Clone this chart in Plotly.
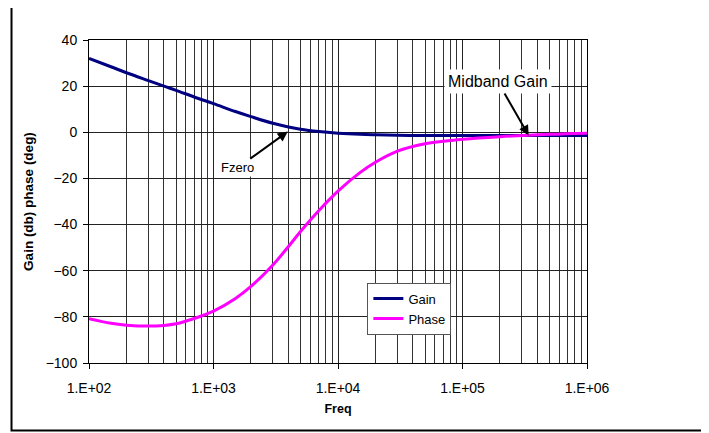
import math

import plotly.graph_objects as go

FREQ = [100, 150, 200, 300, 400, 500, 700, 1000, 1500, 2000, 3000, 4000, 5000, 7000,
        10000, 15000, 20000, 30000, 50000, 70000, 100000, 200000, 500000, 1000000]
GAIN_DB = [32.0, 28.4, 25.8, 22.4, 20.0, 18.2, 15.3, 12.4, 9.0, 6.8, 3.9, 2.3, 1.3, 0.3,
           -0.4, -0.9, -1.1, -1.3, -1.4, -1.4, -1.4, -1.4, -1.4, -1.4]
PHASE_DEG = [-80.8, -82.8, -83.6, -84.0, -83.7, -83.0, -80.7, -77.5, -72.0, -66.8, -57.5,
             -49.5, -43.0, -34.0, -25.5, -17.5, -13.0, -8.2, -5.0, -3.9, -3.0, -1.9, -0.9, -0.4]
X_TICKS = [100, 1000, 10000, 100000, 1000000]
X_TICK_TEXT = ["1.E+02", "1.E+03", "1.E+04", "1.E+05", "1.E+06"]

FONT = "Arial, Liberation Sans, sans-serif"

fig = go.Figure()
fig.add_scatter(x=FREQ, y=GAIN_DB, name="Gain", mode="lines", line_shape="spline",
                line=dict(color="#000080", width=3))
fig.add_scatter(x=FREQ, y=PHASE_DEG, name="Phase", mode="lines", line_shape="spline",
                line=dict(color="#ff00ff", width=3))

# annotations on a log axis take log10 of the x position
fig.add_annotation(x=math.log10(3950), y=0.3, text="Fzero", showarrow=True,
                   ax=-50, ay=36, arrowhead=2, arrowsize=1, arrowwidth=2, arrowcolor="#000",
                   bgcolor="#ffffff", font=dict(size=13, color="#000"))
fig.add_annotation(x=math.log10(340000), y=-1.4, text="Midband Gain", showarrow=True,
                   ax=-31, ay=-54, arrowhead=2, arrowsize=1, arrowwidth=2, arrowcolor="#000",
                   bgcolor="#ffffff", borderpad=3, font=dict(size=16, color="#000"))

# outer chart frame
fig.add_shape(type="rect", xref="paper", yref="paper",
              x0=-0.1556, x1=1.231, y0=-0.209, y1=1.113,
              line=dict(color="#000", width=2))

# page body has an 8px margin, so the figure is 8px smaller and margins shifted
fig.update_layout(
    width=701, height=425,
    margin=dict(l=81, r=122, t=32, b=70, autoexpand=False),
    paper_bgcolor="#ffffff", plot_bgcolor="#ffffff",
    font=dict(family=FONT, size=14, color="#000"),
    showlegend=True,
    legend=dict(x=0.559, y=0.249, xanchor="left", yanchor="top",
                bgcolor="#ffffff", bordercolor="#555", borderwidth=1,
                itemwidth=30, font=dict(size=13), tracegroupgap=0),
)
fig.update_xaxes(
    type="log", range=[2, 6], automargin=False,
    tickvals=X_TICKS, ticktext=X_TICK_TEXT, tickfont=dict(size=14),
    ticks="outside", ticklen=5, tickcolor="#000", ticklabelstandoff=7,
    showgrid=True, gridcolor="#222", gridwidth=1,
    minor=dict(dtick="D1", showgrid=True, gridcolor="#333", gridwidth=1, ticks=""),
    showline=True, linecolor="#000", linewidth=1, mirror=True,
    zeroline=False,
    title=dict(text="<b>Freq</b>", font=dict(size=12.5), standoff=9),
)
fig.update_yaxes(
    range=[-100, 40], dtick=20, automargin=False, tickfont=dict(size=14),
    ticks="outside", ticklen=5, tickcolor="#000", ticklabelstandoff=3,
    showgrid=True, gridcolor="#222", gridwidth=1,
    showline=True, linecolor="#000", linewidth=1, mirror=True,
    zeroline=False,
    title=dict(text="<b>Gain (db) phase (deg)</b>", font=dict(size=13.5), standoff=8),
)

fig.write_html("out.html")
